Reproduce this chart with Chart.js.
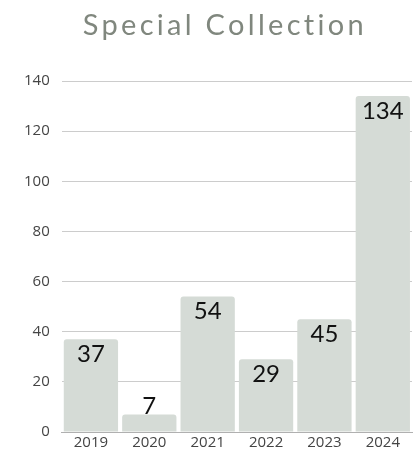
<!DOCTYPE html>
<html>
<head>
<meta charset="utf-8">
<script src="https://cdn.jsdelivr.net/npm/chart.js@4"></script>
<style>
  html, body { margin: 0; padding: 0; background: #ffffff; }
  #wrap { width: 415px; height: 454px; position: relative; }
</style>
</head>
<body>
<div id="wrap"><canvas id="chart"></canvas></div>
<script>
// Yearly counts for the Special Collection
const years = ['2019', '2020', '2021', '2022', '2023', '2024'];
const counts = [37, 7, 54, 29, 45, 134];
const yTicks = [0, 20, 40, 60, 80, 100, 120, 140];
const chartTitle = 'Special Collection';

// Spaced heading above the plot
const heading = {
  id: 'heading',
  afterDraw(chart) {
    const ctx = chart.ctx;
    const area = chart.chartArea;
    ctx.save();
    ctx.font = '400 29px Lato, "Open Sans", sans-serif';
    ctx.fillStyle = '#80877e';
    ctx.textAlign = 'center';
    ctx.textBaseline = 'alphabetic';
    if ('letterSpacing' in ctx) ctx.letterSpacing = '3.3px';
    ctx.fillText(chartTitle, (area.left + area.right) / 2 - 12, 35);
    ctx.restore();
  }
};

// Value labels: drawn inside the top of each bar, or just above a short bar
const valueLabels = {
  id: 'valueLabels',
  afterDatasetsDraw(chart) {
    const ctx = chart.ctx;
    const meta = chart.getDatasetMeta(0);
    ctx.save();
    ctx.font = '400 24px Lato, "Open Sans", sans-serif';
    ctx.fillStyle = '#111111';
    ctx.textAlign = 'center';
    ctx.textBaseline = 'middle';
    meta.data.forEach((bar, i) => {
      const h = bar.base - bar.y;
      const y = h > 30 ? bar.y + 15 : bar.y - 8;
      ctx.fillText(String(counts[i]), bar.x, y);
    });
    ctx.restore();
  }
};

new Chart(document.getElementById('chart'), {
  type: 'bar',
  data: {
    labels: years,
    datasets: [{
      data: counts,
      backgroundColor: '#d5dbd6',
      borderRadius: 3,
      borderSkipped: 'bottom',
      barPercentage: 0.93,
      categoryPercentage: 1.0
    }]
  },
  options: {
    responsive: true,
    maintainAspectRatio: false,
    animation: false,
    layout: { padding: { left: 12, right: 3, top: 81, bottom: 0 } },
    plugins: {
      legend: { display: false },
      tooltip: { enabled: false },
      title: { display: false }
    },
    scales: {
      x: {
        grid: { display: false, drawTicks: false },
        border: { display: true, color: '#b0b0b0', width: 1 },
        ticks: {
          color: '#444444',
          font: { family: '"Open Sans", sans-serif', size: 15 },
          padding: 2
        }
      },
      y: {
        min: 0,
        max: yTicks[yTicks.length - 1],
        afterBuildTicks(scale) { scale.ticks = yTicks.map(v => ({ value: v })); },
        grid: { color: '#cccccc', drawTicks: false },
        border: { display: false },
        ticks: {
          color: '#444444',
          font: { family: '"Open Sans", sans-serif', size: 15 },
          padding: 12
        }
      }
    }
  },
  plugins: [valueLabels, heading]
});
</script>
</body>
</html>
